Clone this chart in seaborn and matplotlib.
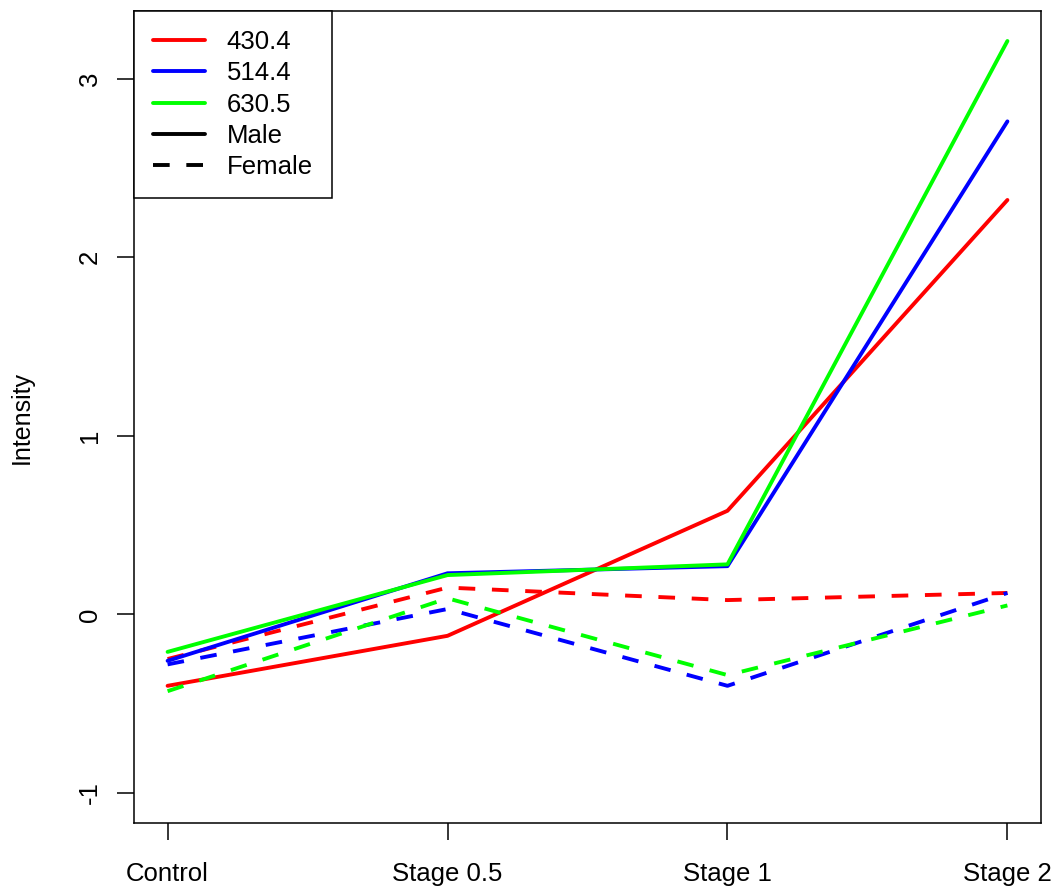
import matplotlib
matplotlib.use('Agg')
import numpy as np
import pandas as pd
import seaborn as sns
import matplotlib.pyplot as plt
from matplotlib.lines import Line2D

# ------ data ------ #
stages = ['Control', 'Stage 0.5', 'Stage 1', 'Stage 2']
masses = ['430.4', '514.4', '630.5']
sexes = ['Male', 'Female']

male_430 = [-0.40, -0.12, 0.58, 2.32]
male_514 = [-0.26, 0.23, 0.27, 2.76]
male_630 = [-0.21, 0.22, 0.28, 3.21]
female_430 = [-0.25, 0.15, 0.08, 0.12]
female_514 = [-0.28, 0.03, -0.40, 0.12]
female_630 = [-0.43, 0.09, -0.34, 0.05]

colors = {'430.4': '#ff0000', '514.4': '#0000ff', '630.5': '#00ff00'}

rows = []
series = {
    ('430.4', 'Male'): male_430, ('514.4', 'Male'): male_514,
    ('630.5', 'Male'): male_630, ('430.4', 'Female'): female_430,
    ('514.4', 'Female'): female_514, ('630.5', 'Female'): female_630,
}
for (m, s), vals in series.items():
    for st, v in zip(stages, vals):
        rows.append({'stage': st, 'pos': stages.index(st), 'mass': m,
                     'sex': s, 'intensity': v})
df = pd.DataFrame(rows)

sns.set_style('white')
plt.rcParams['font.family'] = ['Liberation Sans', 'DejaVu Sans']
plt.rcParams['text.color'] = 'black'
plt.rcParams['axes.labelcolor'] = 'black'
plt.rcParams['xtick.color'] = 'black'
plt.rcParams['ytick.color'] = 'black'

fig = plt.figure(figsize=(10.59, 8.93), dpi=100, facecolor='w')
ax = fig.add_axes([134 / 1059, 70 / 893, 907 / 1059, 812 / 893])

lw = 2.8
dash = (0, (12 / lw, 12 / lw))
sns.lineplot(
    data=df, x='pos', y='intensity', hue='mass', style='sex',
    hue_order=masses, style_order=sexes, palette=colors,
    dashes={'Male': '', 'Female': (12 / lw, 12 / lw)},
    linewidth=lw, sort=False, estimator=None, legend=False, ax=ax
)

ax.set_xlim(-0.12, 3.12)
ax.set_ylim(-1.168, 3.378)
ax.set_xticks(range(len(stages)))
ax.set_xticklabels(stages)
ax.set_yticks([-1, 0, 1, 2, 3])
ax.set_yticklabels(['-1', '0', '1', '2', '3'], rotation=90, va='center')
ax.set_xlabel('')
ax.set_ylabel('Intensity', fontsize=18, labelpad=32)
ax.tick_params(axis='both', direction='out', length=12, width=1.1,
               color='black', labelcolor='black', labelsize=18.5,
               left=True, bottom=True)
ax.tick_params(axis='x', pad=16)
ax.tick_params(axis='y', pad=11)
for sp in ax.spines.values():
    sp.set_visible(True)
    sp.set_color('black')
    sp.set_linewidth(1.1)

# ------ R style legend ------ #
handles = [Line2D([], [], color=colors[m], lw=lw) for m in masses]
handles.append(Line2D([], [], color='black', lw=lw))
handles.append(Line2D([], [], color='black', lw=lw, linestyle=dash))
leg = ax.legend(
    handles, masses + sexes, loc='upper left', bbox_to_anchor=(0, 1),
    borderaxespad=0, fancybox=False, edgecolor='black', framealpha=1,
    fontsize=18.5, handlelength=2.0, handletextpad=0.85, labelspacing=0.28,
    borderpad=0.75
)
leg.get_frame().set_linewidth(1.1)
for t in leg.get_texts():
    t.set_color('black')

plt.savefig('out.png', dpi=100)
